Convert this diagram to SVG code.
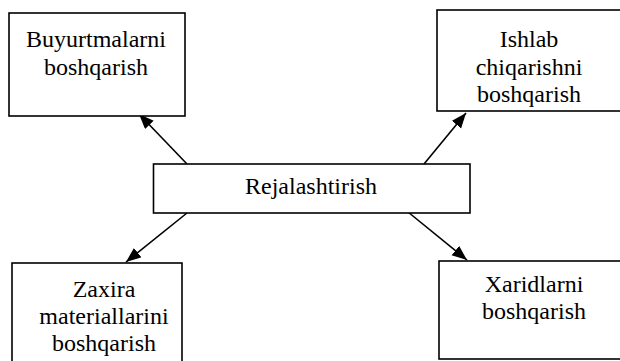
<svg xmlns="http://www.w3.org/2000/svg" width="620" height="361" viewBox="0 0 620 361">
  <style>
    .box { fill: #fff; stroke: #000; stroke-width: 1.6; }
    .lbl { font-family: "Liberation Serif", "Times New Roman", serif; font-size: 24px; fill: #000; text-anchor: middle; }
    .edge { stroke: #000; stroke-width: 1.6; fill: none; marker-end: url(#arrow); }
  </style>
  <defs>
    <marker id="arrow" markerUnits="userSpaceOnUse" markerWidth="16" markerHeight="14" refX="15" refY="6" orient="auto">
      <path d="M0,0 L15,6 L0,12 Z" fill="#000"/>
    </marker>
  </defs>
  <rect width="620" height="361" fill="#fff"/>

  <g id="connectors">
    <line class="edge" x1="187" y1="164" x2="139" y2="114"/>
    <line class="edge" x1="424" y1="164" x2="466" y2="113"/>
    <line class="edge" x1="187" y1="213" x2="126" y2="262"/>
    <line class="edge" x1="408" y1="212" x2="467" y2="260"/>
  </g>

  <g id="rejalashtirish">
    <rect class="box" x="153.5" y="164" width="316.5" height="49"/>
    <text class="lbl" x="311" y="194">Rejalashtirish</text>
  </g>

  <g id="buyurtmalarni">
    <rect class="box" x="9" y="13" width="176" height="103"/>
    <text class="lbl" x="96" y="47">Buyurtmalarni</text>
    <text class="lbl" x="96" y="75">boshqarish</text>
  </g>

  <g id="ishlab-chiqarish">
    <rect class="box" x="437" y="10" width="190" height="101"/>
    <text class="lbl" x="529" y="47">Ishlab</text>
    <text class="lbl" x="529" y="75">chiqarishni</text>
    <text class="lbl" x="529" y="102">boshqarish</text>
  </g>

  <g id="zaxira">
    <rect class="box" x="12" y="263" width="170" height="110"/>
    <text class="lbl" x="104" y="297">Zaxira</text>
    <text class="lbl" x="104" y="324">materiallarini</text>
    <text class="lbl" x="104" y="351">boshqarish</text>
  </g>

  <g id="xaridlar">
    <rect class="box" x="439" y="261" width="190" height="98"/>
    <text class="lbl" x="534" y="292">Xaridlarni</text>
    <text class="lbl" x="534" y="319">boshqarish</text>
  </g>
</svg>
